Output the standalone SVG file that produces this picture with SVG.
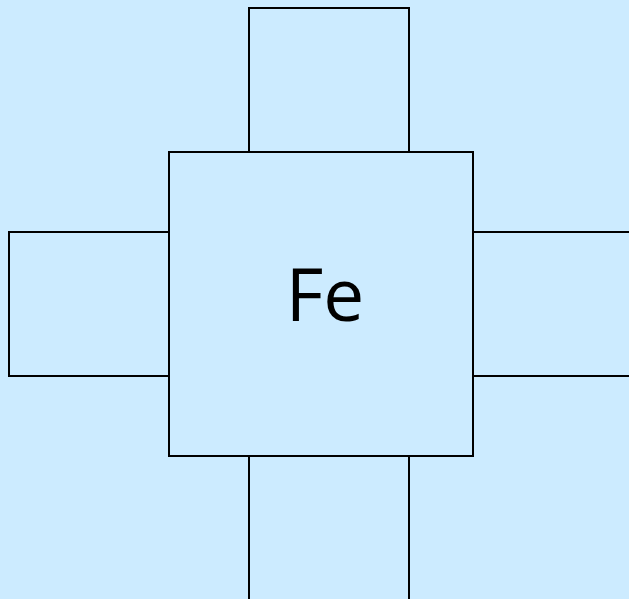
<svg xmlns="http://www.w3.org/2000/svg" width="629" height="599" viewBox="0 0 629 599">
<style>
.box{fill:#CCEBFF;stroke:#000;stroke-width:2}
.lbl{font-family:"Open Sans","Noto Sans",sans-serif;font-size:73px;fill:#000}
</style>
<rect x="0" y="0" width="629" height="599" fill="#CCEBFF"/>
<g id="top"><rect class="box" x="249" y="8" width="160" height="144"/></g>
<g id="left"><rect class="box" x="9" y="232" width="160" height="144"/></g>
<g id="right"><rect class="box" x="473" y="232" width="170" height="144"/></g>
<g id="bottom"><rect class="box" x="249" y="456" width="160" height="160"/></g>
<g id="center"><rect class="box" x="169" y="152" width="304" height="304"/>
<text class="lbl" x="325" y="321" text-anchor="middle">Fe</text></g>
<g id="connectors"></g>
</svg>
